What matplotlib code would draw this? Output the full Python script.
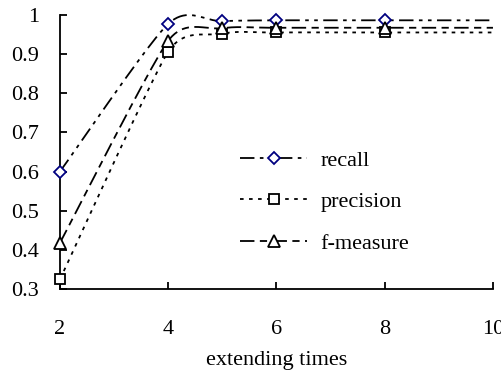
import numpy as np
import matplotlib
matplotlib.use('Agg')
import matplotlib.pyplot as plt

plt.rcParams['font.family'] = ['Liberation Serif', 'DejaVu Serif']

# data
times = [2, 4, 5, 6, 8, 10]
recall = [0.60, 0.977, 0.984, 0.986, 0.986, 0.986]
precision = [0.325, 0.906, 0.952, 0.955, 0.955, 0.955]
fmeasure = [0.418, 0.934, 0.966, 0.967, 0.967, 0.967]

x_ticks = [2, 4, 6, 8, 10]
y_ticks = [0.3, 0.4, 0.5, 0.6, 0.7, 0.8, 0.9, 1.0]


# excel style smoothed line, worked out in screen space
def smooth(ax, x, y, n=40):
    pts = ax.transData.transform(np.column_stack([x, y]))
    ext = np.vstack([pts[:1], pts, pts[-1:]])
    m = len(pts)
    # control handle for every point, limited to half the shorter side
    hand = []
    for i in range(m):
        prv, nxt = ext[i], ext[i + 2]
        d02 = np.hypot(*(nxt - prv))
        d01 = np.hypot(*(pts[i] - prv))
        d12 = np.hypot(*(nxt - pts[i]))
        f = 1 / 6
        lims = [d / 2 for d in (d01, d12) if d > 0]
        if d02 > 0 and lims and d02 * f > min(lims):
            f = min(lims) / d02
        hand.append((nxt - prv) * f)
    t = np.linspace(0, 1, n)[:, None]
    out = []
    for i in range(m - 1):
        p0, p3 = pts[i], pts[i + 1]
        p1 = p0 + hand[i]
        p2 = p3 - hand[i + 1]
        b = (1 - t) ** 3 * p0 + 3 * (1 - t) ** 2 * t * p1 + 3 * (1 - t) * t ** 2 * p2 + t ** 3 * p3
        out.append(b)
    out = ax.transData.inverted().transform(np.vstack(out))
    return out[:, 0], out[:, 1]


fig = plt.figure(figsize=(5.02, 3.71), dpi=100)
ax = fig.add_axes([0.1195, 0.221, 0.8625, 0.739])
ax.set_xlim(2, 10)
ax.set_ylim(0.3, 1.0)

styles = [
    (recall, 'recall', 'D', '#000080', (0, (8, 3, 2, 3, 2, 3)), 6.5),
    (precision, 'precision', 's', 'black', (0, (2, 3)), 7.5),
    (fmeasure, 'f-measure', '^', 'black', (0, (8, 3, 4, 3)), 8.5),
]
for vals, name, mk, mc, ls, ms in styles:
    sx, sy = smooth(ax, times, vals)
    ax.plot(sx, sy, color='black', lw=1.3, linestyle=ls, clip_on=False)
    ax.plot(times[:-1], vals[:-1], linestyle='none', marker=mk, ms=ms,
            mfc='white', mec=mc, mew=1.3, clip_on=False, zorder=3)

# legend handles
handles = []
for vals, name, mk, mc, ls, ms in styles:
    h, = ax.plot([], [], color='black', lw=1.3, linestyle=ls, marker=mk, ms=ms,
                 mfc='white', mec=mc, mew=1.3)
    handles.append(h)
ax.legend(handles, [s[1] for s in styles], loc='upper left',
          bbox_to_anchor=(0.37, 0.58), frameon=False, fontsize=16,
          handlelength=3.0, handletextpad=0.6, labelspacing=0.95)

ax.set_xlim(2, 10)
ax.set_ylim(0.3, 1.0)
ax.set_xticks(x_ticks)
ax.set_yticks(y_ticks)
ax.set_yticklabels(['%g' % v for v in y_ticks])
ax.tick_params(direction='in', length=5, width=1.3, labelsize=16)
ax.tick_params(axis='y', pad=15)
ax.tick_params(axis='x', pad=22)
for s in ['top', 'right']:
    ax.spines[s].set_visible(False)
for s in ['left', 'bottom']:
    ax.spines[s].set_linewidth(1.3)
ax.set_xlabel('extending times', fontsize=16, labelpad=9)

fig.savefig('out.png', dpi=100)
